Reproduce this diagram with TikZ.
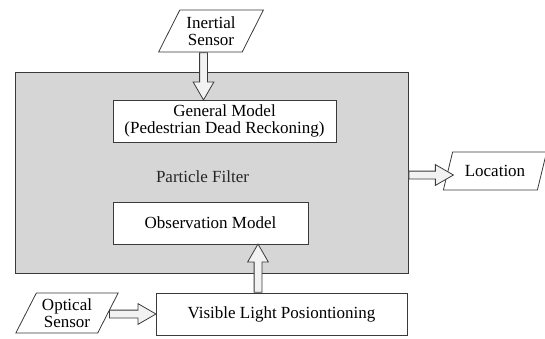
\documentclass[tikz,border=0pt]{standalone}
\usepackage{fontspec}
\setmainfont{Liberation Serif}
\usetikzlibrary{calc}
\usetikzlibrary{shapes.geometric,shapes.arrows}

\definecolor{boxgray}{HTML}{D6D6D6}
\definecolor{arrowfill}{HTML}{F2F2F2}
\definecolor{garis}{HTML}{3A3A3A}

\tikzset{
  blok/.style={draw=garis, line width=0.9pt, fill=white, align=center, inner sep=0pt},
  jajar/.style={trapezium, trapezium left angle=60, trapezium right angle=120,
    trapezium stretches=true, draw=garis, line width=0.8pt, fill=white, align=center, inner sep=0pt},
  hollow arrow/.style={single arrow, draw=garis, line width=0.8pt, fill=arrowfill, inner xsep=0pt,
    inner ysep=3.5pt, single arrow head extend=6.5pt, single arrow tip angle=60},
}

% panah blok dari #1 ke #2
\newcommand{\blockarrow}[2]{%
  \path let \p1=(#1), \p2=(#2), \n1={atan2(\y2-\y1,\x2-\x1)},
    \n2={veclen(\x2-\x1,\y2-\y1)} in
    node[hollow arrow, minimum height=\n2, rotate=\n1, anchor=tail] at (\p1) {};}

\begin{document}
\begin{tikzpicture}[x=1pt,y=-1pt,font=\fontsize{17}{17}\selectfont]
    \useasboundingbox (0,0) rectangle (545,338);
    % kotak particle filter
    \node[draw=garis, line width=1pt, fill=boxgray, minimum width=393, minimum height=201, inner sep=0pt] (pf) at (211.5,172.5) {};
    \node[text=black!85] (pflabel) at (202.5,177) {Particle Filter};
    
    % model-model
    \node[blok, minimum width=223, minimum height=42] (gm) at (224.5,121) {General Model\\(Pedestrian Dead Reckoning)};
    \node[blok, minimum width=195, minimum height=42] (obs) at (210.5,223) {Observation Model};
    \node[blok, minimum width=251, minimum height=42] (vlp) at (281.5,314) {Visible Light Posiontioning};
    
    % sensor dan keluaran
    \node[jajar, minimum width=105, minimum height=42] (ins) at (211,31) {Inertial\\Sensor};
    \node[jajar, minimum width=103, minimum height=40] (opt) at (67,313) {Optical\\Sensor};
    \node[jajar, minimum width=104, minimum height=38] (loc) at (495,171) {Location};
    
    % titik-titik panah
    \coordinate (a1) at ($(ins.south)+(-7.5,0)$);
    \coordinate (a2) at (a1 |- gm.north);
    \coordinate (b1) at ($(vlp.north)+(-23.5,0)$);
    \coordinate (b2) at (b1 |- obs.south);
    \coordinate (c1) at (109,314);
    \coordinate (c2) at (c1 -| vlp.west);
    \coordinate (d1) at (pf.east |- 0,175);
    \coordinate (d2) at (453,175);
    
    % panah blok
    \blockarrow{a1}{a2}
    \blockarrow{b1}{b2}
    \blockarrow{c1}{c2}
    \blockarrow{d1}{d2}
\end{tikzpicture}
\end{document}
